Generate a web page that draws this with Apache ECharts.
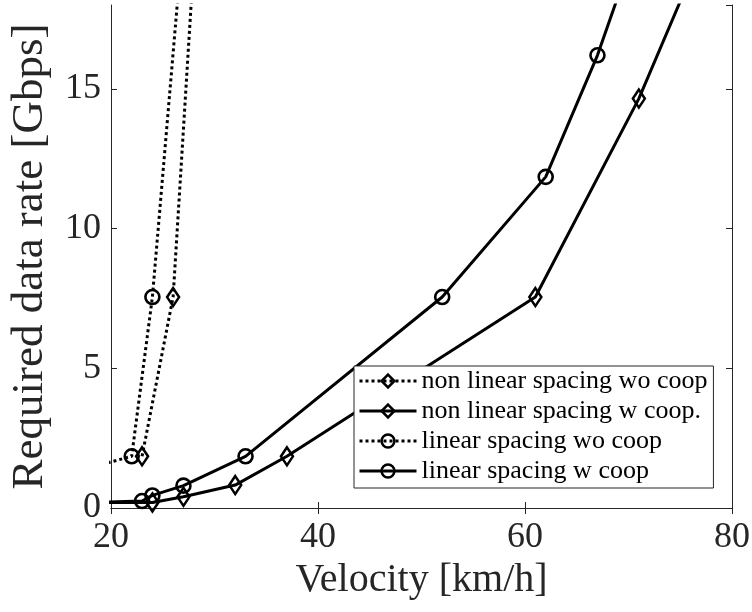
<!DOCTYPE html>
<html>
<head>
<meta charset="utf-8">
<script src="https://cdn.jsdelivr.net/npm/echarts@6/dist/echarts.min.js"></script>
<style>html,body{margin:0;padding:0;background:#fff;}#c{width:752px;height:612px;}</style>
</head>
<body>
<div id="c"></div>
<script>
// Data (velocity km/h, required data rate Gbps)
const seriesNames = ['non linear spacing wo coop', 'non linear spacing w coop.', 'linear spacing wo coop', 'linear spacing w coop'];
const nonLinWoCoop = [[23, 1.85], [26, 7.55], [29, 25.6]];
const nonLinWCoop = [[18, 0.2], [24, 0.2], [27, 0.4], [32, 0.82], [37, 1.85], [61, 7.55], [71, 14.65], [76, 19]];
const linWoCoop = [[18, 1.45], [22, 1.85], [24, 7.55], [28, 25]];
const linWCoop = [[18, 0.2], [23, 0.25], [24, 0.45], [27, 0.8], [33, 1.85], [52, 7.55], [62, 11.85], [67, 16.2], [72, 21.5]];
const xTicks = [20, 40, 60, 80];
const yTicks = [0, 5, 10, 15];

const FONT = 'Liberation Serif';
const TXT = '#262626';
const DIAMOND = [12, 18];
const CIRCLE = 14;

function mk(name, data, dotted, symbol) {
  return {
    name: name,
    type: 'line',
    data: data,
    clip: true,
    symbol: symbol,
    symbolSize: symbol === 'diamond' ? DIAMOND : CIRCLE,
    showAllSymbol: true,
    lineStyle: { color: '#000', width: 3, type: dotted ? [3, 3] : 'solid' },
    itemStyle: { color: 'rgba(0,0,0,0)', borderColor: '#000', borderWidth: 2.6, borderType: 'solid' },
    emphasis: { disabled: true },
    animation: false,
    z: 2
  };
}

const chart = echarts.init(document.getElementById('c'), null, { renderer: 'canvas' });
const axisLine = { show: true, lineStyle: { color: TXT, width: 1 } };
chart.setOption({
  backgroundColor: '#fff',
  animation: false,
  grid: { left: 111, top: 5, right: 20, bottom: 104, containLabel: false, outerBoundsMode: 'none' },
  xAxis: [
    {
      type: 'value', min: xTicks[0], max: xTicks[xTicks.length - 1], interval: 20,
      position: 'bottom',
      name: 'Velocity [km/h]', nameLocation: 'middle', nameGap: 50,
      nameTextStyle: { fontFamily: FONT, fontSize: 40, color: TXT },
      axisLine: axisLine,
      axisTick: { show: true, inside: true, length: 6, lineStyle: { color: TXT } },
      axisLabel: { fontFamily: FONT, fontSize: 36, color: TXT, margin: 12 },
      splitLine: { show: false }
    },
    {
      type: 'value', min: xTicks[0], max: xTicks[xTicks.length - 1], interval: 20,
      position: 'top',
      axisLine: axisLine,
      axisTick: { show: true, inside: true, length: 6, lineStyle: { color: TXT } },
      axisLabel: { show: false },
      splitLine: { show: false }
    }
  ],
  yAxis: [
    {
      type: 'value', min: 0, max: 18, interval: 5,
      position: 'left',
      name: 'Required data rate [Gbps]', nameLocation: 'middle', nameGap: 58,
      nameTextStyle: { fontFamily: FONT, fontSize: 45, color: TXT },
      axisLine: axisLine,
      axisTick: { show: true, inside: true, length: 6, lineStyle: { color: TXT } },
      axisLabel: { fontFamily: FONT, fontSize: 36, color: TXT, margin: 10, showMaxLabel: false,
        formatter: function (v) { return yTicks.indexOf(v) >= 0 ? String(v) : ''; } },
      splitLine: { show: false }
    },
    {
      type: 'value', min: 0, max: 18, interval: 5,
      position: 'right',
      axisLine: axisLine,
      axisTick: { show: true, inside: true, length: 6, lineStyle: { color: TXT } },
      axisLabel: { show: false },
      splitLine: { show: false }
    }
  ],
  legend: {
    orient: 'vertical',
    left: 354, top: 366,
    itemWidth: 57, itemHeight: 16, itemGap: 0,
    padding: [0, 6, 2, 4],
    backgroundColor: '#fff',
    borderColor: TXT, borderWidth: 1, borderRadius: 0,
    selectedMode: false,
    textStyle: { fontFamily: FONT, fontSize: 26, color: '#000', lineHeight: 30 },
    lineStyle: { width: 3 },
    itemStyle: { borderWidth: 2.5 },
    data: seriesNames
  },
  series: [
    mk(seriesNames[0], nonLinWoCoop, true, 'diamond'),
    mk(seriesNames[1], nonLinWCoop, false, 'diamond'),
    mk(seriesNames[2], linWoCoop, true, 'circle'),
    mk(seriesNames[3], linWCoop, false, 'circle')
  ]
});
</script>
</body>
</html>
